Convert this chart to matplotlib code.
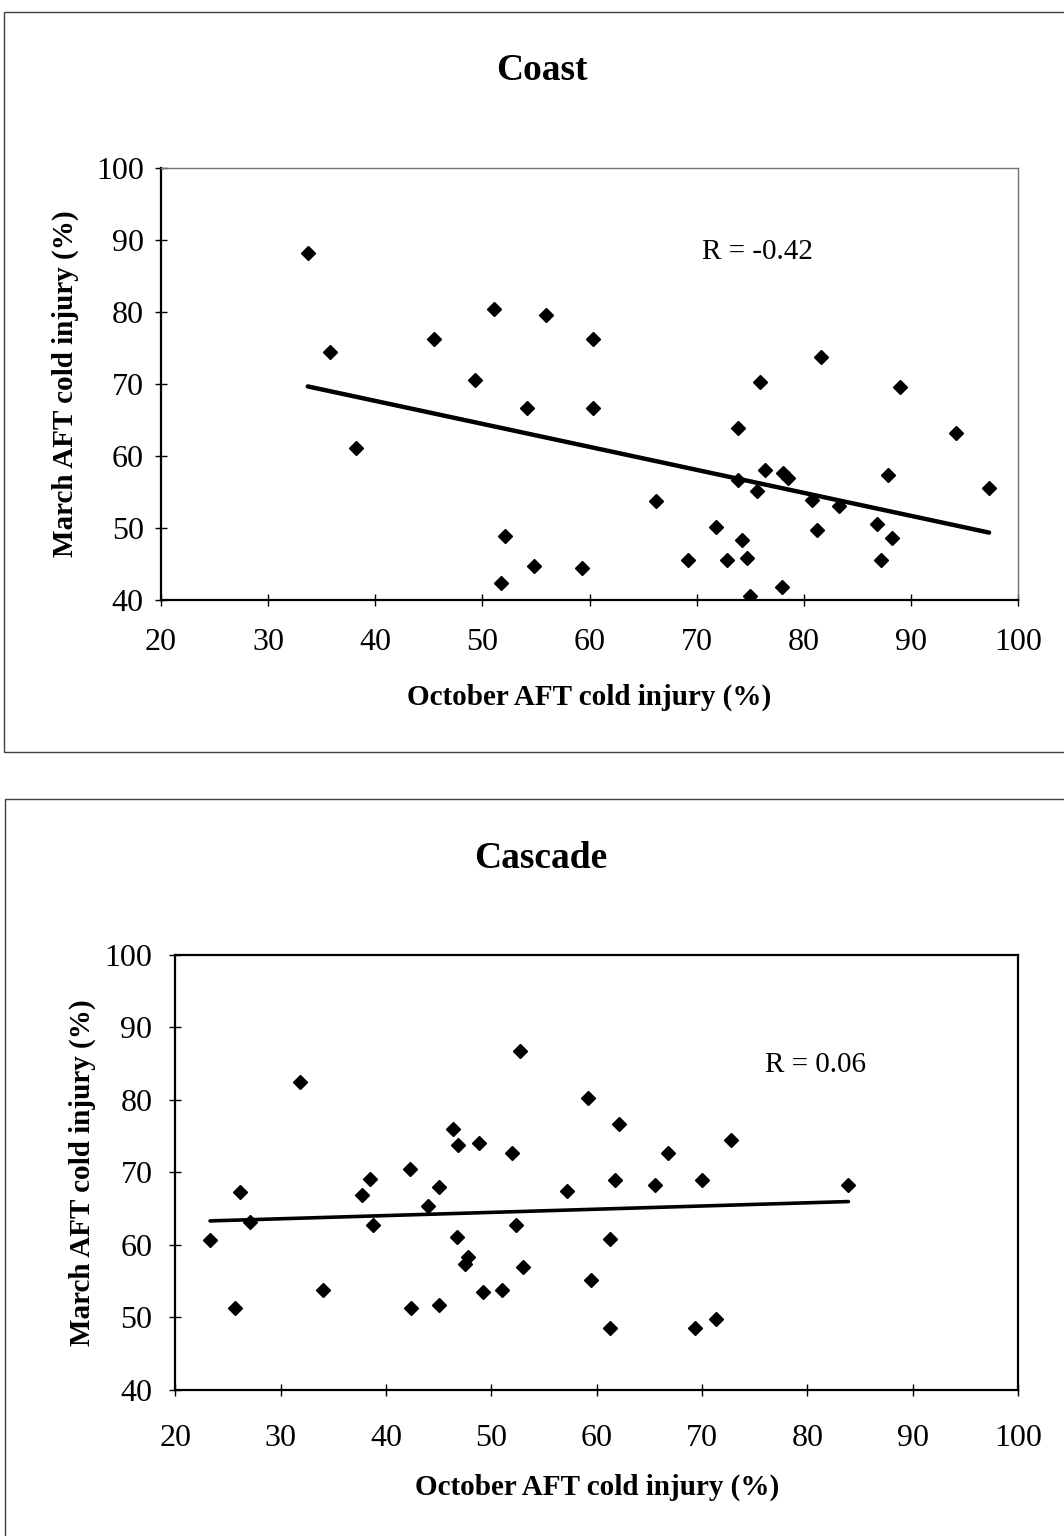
import numpy as np
import matplotlib.pyplot as plt
from matplotlib.patches import Rectangle

plt.rcParams['font.family'] = ['Liberation Serif', 'DejaVu Serif']

# Coast: October vs March AFT cold injury (%)
coast_oct = [33.7, 35.8, 38.2, 45.5, 49.3, 51.1, 55.9, 54.2, 52.1, 51.7,
             54.8, 59.3, 60.3, 60.3, 66.2, 71.8, 69.2, 73.9, 73.9, 74.2,
             72.8, 74.7, 75.0, 75.9, 76.4, 75.6, 78.1, 78.5, 78.0, 81.6,
             80.8, 81.2, 83.3, 86.8, 87.2, 87.9, 88.2, 89.0, 94.2, 97.3]
coast_mar = [88.2, 74.4, 61.1, 76.3, 70.5, 80.4, 79.6, 66.7, 48.9, 42.4,
             44.7, 44.4, 76.2, 66.7, 53.8, 50.1, 45.5, 63.9, 56.6, 48.3,
             45.6, 45.8, 40.5, 70.3, 58.1, 55.2, 57.6, 57.0, 41.8, 73.8,
             53.9, 49.7, 53.1, 50.5, 45.5, 57.3, 48.6, 69.6, 63.2, 55.6]

# Cascade
casc_oct = [23.3, 25.7, 26.1, 27.1, 31.8, 34.0, 37.7, 38.5, 38.8, 42.3,
            42.4, 44.0, 45.0, 45.0, 46.4, 46.8, 46.7, 47.8, 47.5, 48.8,
            49.2, 51.0, 52.0, 52.3, 52.7, 53.0, 57.2, 59.2, 59.5, 62.1,
            61.7, 61.3, 61.3, 65.5, 66.8, 70.0, 72.8, 69.3, 71.3, 83.9]
casc_mar = [60.7, 51.3, 67.3, 63.1, 82.5, 53.8, 66.8, 69.1, 62.8, 70.5,
            51.3, 65.3, 68.0, 51.7, 76.0, 73.7, 61.1, 58.3, 57.3, 74.0,
            53.5, 53.8, 72.6, 62.8, 86.7, 56.9, 67.4, 80.2, 55.2, 76.7,
            69.0, 60.8, 48.5, 68.2, 72.7, 69.0, 74.4, 48.5, 49.8, 68.3]

x_ticks = [20, 30, 40, 50, 60, 70, 80, 90, 100]
y_ticks = [40, 50, 60, 70, 80, 90, 100]

fig = plt.figure(figsize=(10.64, 15.36), dpi=100)

# panel frames
fig.patches.append(Rectangle((4 / 1064, 1 - 752 / 1536), 1.0, 740 / 1536,
                             transform=fig.transFigure, fill=False,
                             edgecolor='0.25', lw=1))
fig.patches.append(Rectangle((5 / 1064, 1 - 1560 / 1536), 1.0, 761 / 1536,
                             transform=fig.transFigure, fill=False,
                             edgecolor='0.25', lw=1))


def panel(rect, xs, ys, title, title_xy, rtext, rpos, lw, light,
          xpad, ypad, xlpad, ylpad):
    ax = fig.add_axes(rect)
    ax.plot(xs, ys, 'D', color='black', ms=7.3, zorder=3)
    k, b = np.polyfit(xs, ys, 1)
    xl = np.array([min(xs), max(xs)])
    ax.plot(xl, k * xl + b, color='black', lw=lw, solid_capstyle='round')
    ax.set_xlim(20, 100)
    ax.set_ylim(40, 100)
    ax.set_xticks(x_ticks)
    ax.set_yticks(y_ticks)
    ax.tick_params(labelsize=23, direction='inout', length=9, width=1)
    ax.tick_params(axis='x', pad=xpad)
    ax.tick_params(axis='y', pad=ypad)
    for s in ['left', 'bottom']:
        ax.spines[s].set_linewidth(1.6)
    for s in ['top', 'right']:
        ax.spines[s].set_color('0.45' if light else 'black')
        ax.spines[s].set_linewidth(1.0 if light else 1.6)
    ax.set_xlabel('October AFT cold injury (%)', fontsize=21, fontweight='bold',
                  labelpad=xlpad)
    ax.set_ylabel('March AFT cold injury (%)', fontsize=21, fontweight='bold',
                  labelpad=ylpad)
    ax.text(rpos[0], rpos[1], rtext, fontsize=21, ha='center', va='center')
    fig.text(title_xy[0] / 1064, 1 - title_xy[1] / 1536, title, fontsize=27,
             fontweight='bold', ha='center', va='center')
    return ax


panel([161 / 1064, 1 - 600 / 1536, 857 / 1064, 432 / 1536],
      coast_oct, coast_mar, 'Coast', (542, 71), 'R = -0.42', (75.7, 88.3),
      3.2, True, 16, 8, 19, 12)
panel([175.3 / 1064, 1 - 1390 / 1536, 842.7 / 1064, 435.5 / 1536],
      casc_oct, casc_mar, 'Cascade', (541, 858), 'R = 0.06', (80.8, 84.8),
      2.6, False, 20, 12, 15, 6)

fig.savefig('out.png', dpi=100)
